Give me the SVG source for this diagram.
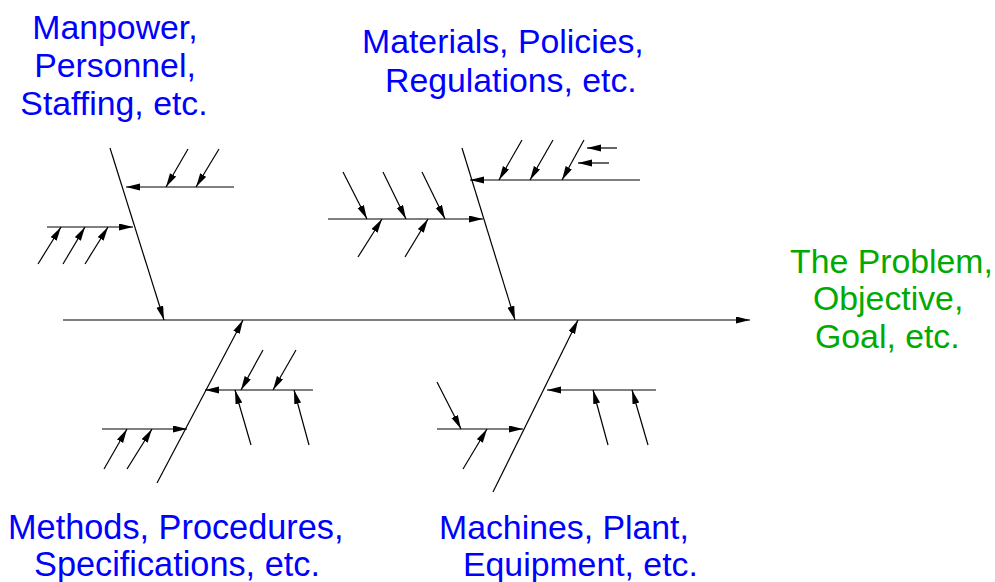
<svg xmlns="http://www.w3.org/2000/svg" width="995" height="582" viewBox="0 0 995 582">
<style>
.lbl{font-family:"Liberation Sans",Arial,sans-serif;font-size:33.8px;}
.blue{fill:#0000ff;}
.green{fill:#00aa00;}
.ln{stroke:#000;stroke-width:1.2;fill:none;}
.ar{stroke:#000;stroke-width:1.2;fill:none;marker-end:url(#ah);}
</style>
<defs>
<marker id="ah" markerUnits="userSpaceOnUse" markerWidth="15" markerHeight="8" refX="14" refY="3.5" orient="auto">
<path d="M0,0 L14,3.5 L0,7 z" fill="#000"/>
</marker>
</defs>
<rect width="995" height="582" fill="#fff"/>
<g id="connectors">
<line class="ar" x1="63" y1="320" x2="750" y2="320"/>
<!-- branch 1 -->
<line class="ar" x1="110" y1="148" x2="164" y2="320"/>
<line class="ar" x1="234" y1="187" x2="126" y2="187"/>
<line class="ar" x1="188" y1="149" x2="166" y2="187"/>
<line class="ar" x1="219" y1="149" x2="196" y2="187"/>
<line class="ar" x1="47" y1="227" x2="133" y2="227"/>
<line class="ar" x1="38" y1="264" x2="61" y2="227"/>
<line class="ar" x1="63" y1="264" x2="85" y2="227"/>
<line class="ar" x1="85" y1="264" x2="108" y2="227"/>
<!-- branch 2 -->
<line class="ar" x1="462" y1="148" x2="515" y2="320"/>
<line class="ar" x1="640" y1="180" x2="470" y2="180"/>
<line class="ar" x1="522" y1="140" x2="499" y2="180"/>
<line class="ar" x1="553" y1="140" x2="530" y2="180"/>
<line class="ar" x1="584" y1="140" x2="562" y2="180"/>
<line class="ar" x1="617" y1="148" x2="587" y2="148"/>
<line class="ar" x1="609" y1="163" x2="578" y2="163"/>
<line class="ar" x1="328" y1="219" x2="483" y2="219"/>
<line class="ar" x1="343" y1="172" x2="367" y2="219"/>
<line class="ar" x1="383" y1="172" x2="406" y2="219"/>
<line class="ar" x1="422" y1="172" x2="445" y2="219"/>
<line class="ar" x1="358" y1="257" x2="382" y2="219"/>
<line class="ar" x1="405" y1="257" x2="428" y2="219"/>
<!-- branch 3 -->
<line class="ar" x1="157" y1="483" x2="243" y2="320"/>
<line class="ar" x1="313" y1="390" x2="205" y2="390"/>
<line class="ar" x1="263" y1="350" x2="241" y2="390"/>
<line class="ar" x1="296" y1="350" x2="273" y2="390"/>
<line class="ar" x1="251" y1="445" x2="235" y2="390"/>
<line class="ar" x1="309" y1="445" x2="294" y2="390"/>
<line class="ar" x1="102" y1="429" x2="187" y2="429"/>
<line class="ar" x1="104" y1="469" x2="127" y2="429"/>
<line class="ar" x1="127" y1="469" x2="152" y2="429"/>
<!-- branch 4 -->
<line class="ar" x1="493" y1="492" x2="578" y2="320"/>
<line class="ar" x1="656" y1="390" x2="547" y2="390"/>
<line class="ar" x1="608" y1="445" x2="593" y2="390"/>
<line class="ar" x1="648" y1="445" x2="632" y2="390"/>
<line class="ar" x1="437" y1="429" x2="523" y2="429"/>
<line class="ar" x1="437" y1="382" x2="461" y2="429"/>
<line class="ar" x1="463" y1="469" x2="487" y2="429"/>
</g>
<g id="manpower">
<text class="lbl blue" text-anchor="middle" x="115" y="39">Manpower,</text>
<text class="lbl blue" text-anchor="middle" x="115" y="77">Personnel,</text>
<text class="lbl blue" text-anchor="middle" x="114" y="115">Staffing, etc.</text>
</g>
<g id="materials">
<text class="lbl blue" x="362" y="53">Materials, Policies,</text>
<text class="lbl blue" x="385" y="92">Regulations, etc.</text>
</g>
<g id="methods">
<text class="lbl blue" x="8" y="539" style="font-size:34.3px">Methods, Procedures,</text>
<text class="lbl blue" x="34" y="576" style="font-size:34.3px">Specifications, etc.</text>
</g>
<g id="machines">
<text class="lbl blue" x="439" y="539">Machines, Plant,</text>
<text class="lbl blue" x="463" y="576">Equipment, etc.</text>
</g>
<g id="problem">
<text class="lbl green" x="790" y="273">The Problem,</text>
<text class="lbl green" x="813" y="310">Objective,</text>
<text class="lbl green" x="815" y="348">Goal, etc.</text>
</g>
</svg>
